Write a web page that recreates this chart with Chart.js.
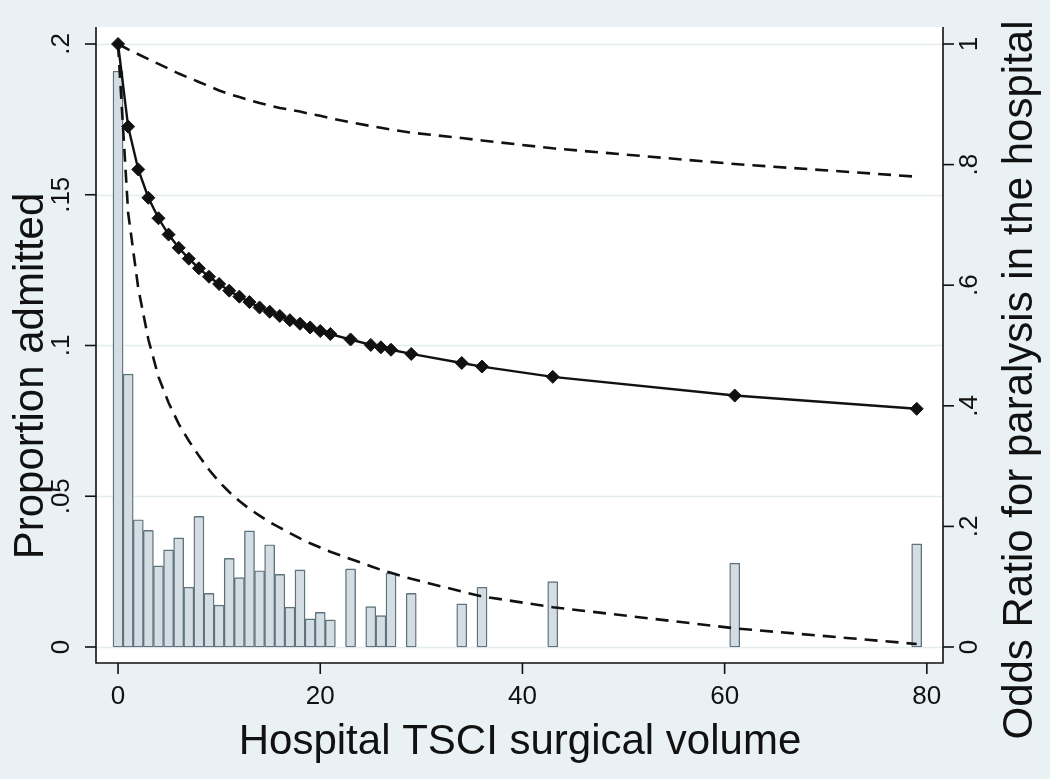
<!DOCTYPE html>
<html lang="en">
<head>
  <meta charset="UTF-8" />
  <title>Hospital TSCI surgical volume</title>
  <script src="https://cdn.jsdelivr.net/npm/chart.js"></script>
  <style>
    * { margin: 0; padding: 0; }
    body { background: #eaf1f5; width: 1050px; height: 779px; overflow: hidden; }
    #wrap { position: relative; width: 1050px; height: 779px; }
  </style>
</head>
<body>
  <div id="wrap"><canvas id="chart" width="1050" height="779"></canvas></div>
  <script>
    // hospital volumes (x), shared by bars and the OR curves
    const volume = [0, 1, 2, 3, 4, 5, 6, 7, 8, 9, 10, 11, 12, 13, 14, 15, 16, 17, 18, 19, 20, 21,
                    23, 25, 26, 27, 29, 34, 36, 43, 61, 79];
    // proportion of patients admitted (left axis)
    const proportion = [0.191, 0.0905, 0.0422, 0.0387, 0.0269, 0.0322, 0.0362, 0.0198, 0.0433, 0.0178,
                        0.0139, 0.0294, 0.0230, 0.0385, 0.0253, 0.0339, 0.0241, 0.0132, 0.0256, 0.0093,
                        0.0115, 0.0090, 0.0259, 0.0134, 0.0104, 0.0245, 0.0178, 0.0143, 0.0198, 0.0217,
                        0.0278, 0.0342];
    // odds ratio for paralysis and its confidence band (right axis)
    const oddsRatio = [1.000, 0.863, 0.792, 0.745, 0.711, 0.684, 0.662, 0.644, 0.628, 0.614,
                       0.602, 0.591, 0.581, 0.572, 0.563, 0.556, 0.549, 0.542, 0.536, 0.530,
                       0.524, 0.519, 0.510, 0.501, 0.497, 0.493, 0.486, 0.471, 0.465, 0.448,
                       0.417, 0.395];
    const upperCI = [1.000, 0.991, 0.983, 0.975, 0.967, 0.959, 0.951, 0.944, 0.937, 0.930,
                     0.923, 0.917, 0.912, 0.907, 0.902, 0.898, 0.894, 0.891, 0.888, 0.884,
                     0.881, 0.877, 0.870, 0.864, 0.861, 0.858, 0.853, 0.844, 0.840, 0.827,
                     0.801, 0.780];
    const lowerCI = [1.000, 0.720, 0.595, 0.510, 0.448, 0.405, 0.370, 0.342, 0.317, 0.294,
                     0.274, 0.257, 0.242, 0.229, 0.218, 0.207, 0.198, 0.189, 0.180, 0.172,
                     0.165, 0.158, 0.146, 0.134, 0.128, 0.123, 0.113, 0.092, 0.084, 0.066,
                     0.031, 0.005];

    const xTicks = [0, 20, 40, 60, 80];
    const leftTicks = [0, 0.05, 0.1, 0.15, 0.2];
    const leftTickLabels = ['0', '.05', '.1', '.15', '.2'];
    const rightTicks = [0, 0.2, 0.4, 0.6, 0.8, 1];
    const rightTickLabels = ['0', '.2', '.4', '.6', '.8', '1'];

    const FONT = '"Liberation Sans", Arial, sans-serif';
    const INK = '#111111';

    const pts = (ys) => volume.map((x, i) => ({ x, y: ys[i] }));

    // stata-ish frame: backgrounds, grid, axes, ticks and titles
    const frame = {
      id: 'frame',
      beforeDraw(chart) {
        const { ctx, chartArea: a } = chart;
        ctx.save();
        ctx.fillStyle = '#eaf1f5';
        ctx.fillRect(0, 0, chart.width, chart.height);
        ctx.fillStyle = '#ffffff';
        ctx.fillRect(a.left, a.top, a.right - a.left, a.bottom - a.top);
        ctx.restore();
      },
      beforeDatasetsDraw(chart) {
        const { ctx, chartArea: a, scales } = chart;
        ctx.save();
        ctx.strokeStyle = '#e3ecf1';
        ctx.lineWidth = 1.5;
        leftTicks.forEach(t => {
          const y = Math.round(scales.y.getPixelForValue(t)) + 0.5;
          ctx.beginPath();
          ctx.moveTo(a.left, y);
          ctx.lineTo(a.right, y);
          ctx.stroke();
        });
        ctx.restore();
      },
      afterDraw(chart) {
        const { ctx, chartArea: a, scales } = chart;
        ctx.save();
        ctx.strokeStyle = INK;
        ctx.lineWidth = 1.6;
        ctx.beginPath();
        ctx.moveTo(a.left, a.top); ctx.lineTo(a.left, a.bottom); ctx.lineTo(a.right, a.bottom); ctx.lineTo(a.right, a.top);
        ctx.stroke();

        ctx.fillStyle = INK;
        ctx.font = '26px ' + FONT;

        // x ticks
        ctx.textAlign = 'center';
        ctx.textBaseline = 'middle';
        xTicks.forEach(t => {
          const x = scales.x.getPixelForValue(t);
          ctx.beginPath(); ctx.moveTo(x, a.bottom); ctx.lineTo(x, a.bottom + 11); ctx.stroke();
          ctx.fillText(String(t), x, 697);
        });

        // left ticks (rotated labels)
        leftTicks.forEach((t, i) => {
          const y = scales.y.getPixelForValue(t);
          ctx.beginPath(); ctx.moveTo(a.left - 11, y); ctx.lineTo(a.left, y); ctx.stroke();
          ctx.save();
          ctx.translate(62, y);
          ctx.rotate(-Math.PI / 2);
          ctx.fillText(leftTickLabels[i], 0, 0);
          ctx.restore();
        });

        // right ticks
        rightTicks.forEach((t, i) => {
          const y = scales.y2.getPixelForValue(t);
          ctx.beginPath(); ctx.moveTo(a.right, y); ctx.lineTo(a.right + 11, y); ctx.stroke();
          ctx.save();
          ctx.translate(970, y);
          ctx.rotate(-Math.PI / 2);
          ctx.fillText(rightTickLabels[i], 0, 0);
          ctx.restore();
        });

        // titles
        ctx.font = '42px ' + FONT;
        ctx.fillText('Hospital TSCI surgical volume', 520, 742);
        ctx.save();
        ctx.translate(31, 376);
        ctx.rotate(-Math.PI / 2);
        ctx.fillText('Proportion admitted', 0, 0);
        ctx.restore();
        ctx.save();
        ctx.translate(1020, 380);
        ctx.rotate(-Math.PI / 2);
        ctx.fillText('Odds Ratio for paralysis in the hospital', 0, 0);
        ctx.restore();
        ctx.restore();
      }
    };

    new Chart(document.getElementById('chart'), {
      type: 'bar',
      data: {
        datasets: [
          {
            type: 'line',
            label: 'Upper CI',
            data: pts(upperCI),
            yAxisID: 'y2',
            borderColor: '#111',
            borderWidth: 2.6,
            borderDash: [13, 8],
            pointRadius: 0,
            tension: 0,
            order: 2
          },
          {
            type: 'line',
            label: 'Lower CI',
            data: pts(lowerCI),
            yAxisID: 'y2',
            borderColor: '#111',
            borderWidth: 2.6,
            borderDash: [13, 8],
            pointRadius: 0,
            tension: 0,
            order: 2
          },
          {
            type: 'line',
            label: 'Odds ratio',
            data: pts(oddsRatio),
            yAxisID: 'y2',
            borderColor: '#111',
            borderWidth: 2.4,
            pointStyle: 'rectRot',
            pointRadius: 6.5,
            pointBackgroundColor: '#111',
            pointBorderColor: '#111',
            pointBorderWidth: 1,
            tension: 0,
            order: 1
          },
          {
            type: 'bar',
            label: 'Proportion admitted',
            data: pts(proportion),
            yAxisID: 'y',
            backgroundColor: '#d3dde3',
            borderColor: '#5f737c',
            borderWidth: 1.4,
            borderSkipped: false,
            borderRadius: 1,
            barPercentage: 1,
            categoryPercentage: 1,
            order: 10
          }
        ]
      },
      options: {
        responsive: false,
        animation: false,
        devicePixelRatio: 1,
        layout: { padding: { left: 96, right: 107, top: 27, bottom: 116 } },
        plugins: { legend: { display: false }, tooltip: { enabled: false } },
        scales: {
          x: { type: 'linear', display: false, offset: false, min: -2.18, max: 81.6 },
          y: { type: 'linear', display: false, min: -0.00531, max: 0.20564 },
          y2: { type: 'linear', display: false, position: 'right', min: -0.02653, max: 1.0282 }
        }
      },
      plugins: [frame]
    });
  </script>
</body>
</html>
